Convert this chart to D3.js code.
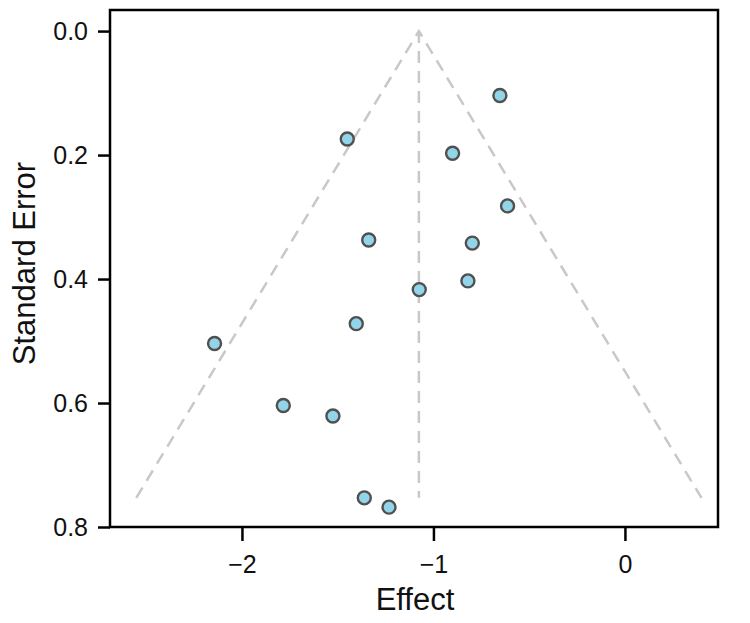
<!DOCTYPE html>
<meta charset="utf-8">
<style>
  body { margin: 0; background: #fff; }
  svg { font-family: "Liberation Sans", Arial, sans-serif; }
  .axis text { font-size: 25px; fill: #111; }
  .axis path, .axis line { stroke: #000; stroke-width: 2.5px; }
  .funnel { fill: none; stroke: #c8c8c8; stroke-width: 2.5px; stroke-dasharray: 12, 8; }
  .dot { fill: #92d5e8; stroke: #505050; stroke-width: 2.4px; }
</style>
<svg width="750" height="623"></svg>
<script src="https://d3js.org/d3.v7.min.js"></script>
<script>
  // study effects and their standard errors
  var effect = [-0.653, -1.450, -0.900, -0.613, -1.338, -0.797, -0.820,
                -1.074, -1.403, -2.143, -1.784, -1.525, -1.361, -1.232];
  var stdErr = [0.104, 0.174, 0.197, 0.282, 0.337, 0.342, 0.403,
                0.417, 0.472, 0.504, 0.604, 0.621, 0.753, 0.768];
  var pooled = -1.076;
  var seMax = 0.753;
  var xTicks = [-2, -1, 0];
  var yTicks = [0.0, 0.2, 0.4, 0.6, 0.8];

  var svg = d3.select("svg");
  var margin = { top: 10, right: 32, bottom: 96, left: 110 },
    width = +svg.attr("width") - margin.left - margin.right,
    height = +svg.attr("height") - margin.top - margin.bottom;

  var x = d3.scaleLinear().domain([-2.689, 0.486]).range([0, width]);
  var y = d3.scaleLinear().domain([-0.034, 0.8]).range([0, height]);

  var g = svg.append("g")
    .attr("transform", "translate(" + margin.left + "," + margin.top + ")");

  // funnel
  var z = 1.96;
  var funnel = [
    [pooled - z * seMax, seMax],
    [pooled, 0],
    [pooled + z * seMax, seMax]
  ];
  g.append("path")
    .attr("class", "funnel")
    .attr("d", d3.line().x(function (d) { return x(d[0]); }).y(function (d) { return y(d[1]); })(funnel));
  g.append("line")
    .attr("class", "funnel")
    .attr("x1", x(pooled)).attr("x2", x(pooled))
    .attr("y1", y(0)).attr("y2", y(seMax));

  // points
  g.selectAll(".dot")
    .data(effect.map(function (e, i) { return { e: e, s: stdErr[i] }; }))
    .enter().append("circle")
    .attr("class", "dot")
    .attr("cx", function (d) { return x(d.e); })
    .attr("cy", function (d) { return y(d.s); })
    .attr("r", 6.5);

  // frame
  g.append("rect")
    .attr("width", width)
    .attr("height", height)
    .attr("fill", "none")
    .attr("stroke", "#000")
    .attr("stroke-width", 2.5);

  var xAxis = g.append("g")
    .attr("class", "axis")
    .attr("transform", "translate(0," + height + ")")
    .call(d3.axisBottom(x).tickValues(xTicks).tickSize(14).tickPadding(14)
      .tickFormat(function (d) { return d < 0 ? "\u2212" + Math.abs(d) : d; }));
  xAxis.select(".domain").remove();

  var yAxis = g.append("g")
    .attr("class", "axis")
    .call(d3.axisLeft(y).tickValues(yTicks).tickSize(12).tickPadding(10).tickFormat(d3.format(".1f")));
  yAxis.select(".domain").remove();

  svg.append("text")
    .attr("x", 415)
    .attr("y", 610)
    .attr("text-anchor", "middle")
    .attr("font-size", 31)
    .attr("fill", "#111")
    .text("Effect");

  svg.append("text")
    .attr("transform", "translate(35," + (margin.top + y(0.375)) + ") rotate(-90)")
    .attr("text-anchor", "middle")
    .attr("font-size", 31)
    .attr("fill", "#111")
    .text("Standard Error");
</script>
